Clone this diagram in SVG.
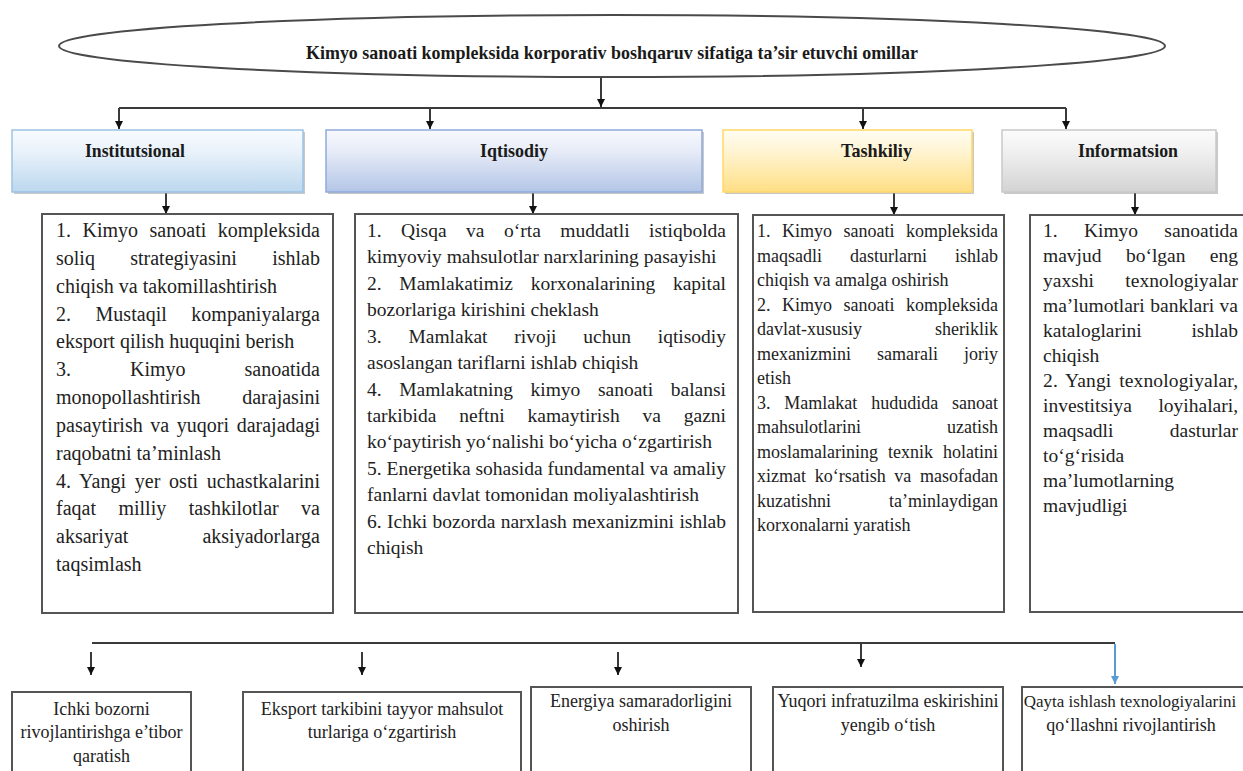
<svg xmlns="http://www.w3.org/2000/svg" width="1243" height="771" viewBox="0 0 1243 771">
<style>
.ln{stroke:#3a3a3a;stroke-width:2;fill:none}
.bl{stroke:#5b9bd5;stroke-width:2;fill:none}
.box{fill:#fff;stroke:#555;stroke-width:2}
.hd{font-family:"Liberation Serif","Times New Roman",serif;font-weight:bold;font-size:19px;fill:#1a1a1a}
.t{font-family:"Liberation Serif","Times New Roman",serif;fill:#222}
.b1{font-size:20px}
.b2{font-size:19.5px}
.b3{font-size:18px}
.b4{font-size:19.5px}
.bt{font-family:"Liberation Serif","Times New Roman",serif;font-size:18px;fill:#222;text-anchor:middle}
.sh{fill:#9a9a9a;opacity:0.55}
</style>
<defs>
<marker id="ar" markerUnits="userSpaceOnUse" markerWidth="9" markerHeight="10" refX="8" refY="4" orient="auto">
<path d="M0,0 L8,4 L0,8 z" fill="#111"/>
</marker>
<marker id="arb" markerUnits="userSpaceOnUse" markerWidth="9" markerHeight="10" refX="8" refY="4" orient="auto">
<path d="M0,0 L8,4 L0,8 z" fill="#5b9bd5"/>
</marker>
<linearGradient id="gInst" x1="0" y1="0" x2="0" y2="1"><stop offset="0" stop-color="#f7fbfe"/><stop offset="0.35" stop-color="#e9f2fa"/><stop offset="1" stop-color="#bcd7ee"/></linearGradient>
<linearGradient id="gIqt" x1="0" y1="0" x2="0" y2="1"><stop offset="0" stop-color="#f8f9fd"/><stop offset="0.35" stop-color="#e6ebf7"/><stop offset="1" stop-color="#b3c5e7"/></linearGradient>
<linearGradient id="gTash" x1="0" y1="0" x2="0" y2="1"><stop offset="0" stop-color="#fffdf3"/><stop offset="0.35" stop-color="#fff4d2"/><stop offset="1" stop-color="#ffdf85"/></linearGradient>
<linearGradient id="gInfo" x1="0" y1="0" x2="0" y2="1"><stop offset="0" stop-color="#fcfcfc"/><stop offset="0.35" stop-color="#f0f0f0"/><stop offset="1" stop-color="#d3d3d3"/></linearGradient>
</defs>

<g id="connectors">
<line class="ln" x1="601" y1="77" x2="601" y2="107" marker-end="url(#ar)"/>
<line class="ln" x1="119" y1="108" x2="1066" y2="108"/>
<line class="ln" x1="119" y1="108" x2="119" y2="129" marker-end="url(#ar)"/>
<line class="ln" x1="430" y1="108" x2="430" y2="129" marker-end="url(#ar)"/>
<line class="ln" x1="863" y1="108" x2="863" y2="129" marker-end="url(#ar)"/>
<line class="ln" x1="1066" y1="108" x2="1066" y2="129" marker-end="url(#ar)"/>
<line class="ln" x1="166" y1="193" x2="166" y2="214" marker-end="url(#ar)"/>
<line class="ln" x1="533" y1="193" x2="533" y2="214" marker-end="url(#ar)"/>
<line class="ln" x1="894" y1="193" x2="894" y2="215" marker-end="url(#ar)"/>
<line class="ln" x1="1135" y1="193" x2="1135" y2="215" marker-end="url(#ar)"/>
<line class="ln" x1="92" y1="643" x2="1115" y2="643"/>
<line class="ln" x1="91" y1="652" x2="91" y2="675" marker-end="url(#ar)"/>
<line class="ln" x1="362" y1="652" x2="362" y2="675" marker-end="url(#ar)"/>
<line class="ln" x1="618" y1="652" x2="618" y2="675" marker-end="url(#ar)"/>
<line class="ln" x1="861" y1="643" x2="861" y2="667" marker-end="url(#ar)"/>
<line class="bl" x1="1115" y1="644" x2="1115" y2="684" marker-end="url(#arb)"/>
</g>

<g id="title">
<ellipse cx="612" cy="46" rx="553" ry="31" fill="#fff" stroke="#4a4a4a" stroke-width="2"/>
<text class="hd" x="612" y="59" text-anchor="middle" textLength="612" lengthAdjust="spacingAndGlyphs">Kimyo sanoati kompleksida korporativ boshqaruv sifatiga ta’sir etuvchi omillar</text>
</g>

<g id="h-institutsional">
<rect class="sh" x="14" y="132" width="291" height="62"/>
<rect x="12" y="130" width="291" height="62" fill="url(#gInst)" stroke="#9dc3e6" stroke-width="1.5"/>
<text class="hd" x="85" y="157" textLength="100" lengthAdjust="spacingAndGlyphs">Institutsional</text>
</g>
<g id="h-iqtisodiy">
<rect class="sh" x="328" y="132" width="376" height="62"/>
<rect x="326" y="130" width="376" height="62" fill="url(#gIqt)" stroke="#8faadc" stroke-width="1.5"/>
<text class="hd" x="480" y="157" textLength="68" lengthAdjust="spacingAndGlyphs">Iqtisodiy</text>
</g>
<g id="h-tashkiliy">
<rect class="sh" x="725" y="132" width="249" height="62"/>
<rect x="723" y="130" width="249" height="62" fill="url(#gTash)" stroke="#ffd966" stroke-width="1.5"/>
<text class="hd" x="841" y="157" textLength="71" lengthAdjust="spacingAndGlyphs">Tashkiliy</text>
</g>
<g id="h-informatsion">
<rect class="sh" x="1004" y="132" width="214" height="62"/>
<rect x="1002" y="130" width="214" height="62" fill="url(#gInfo)" stroke="#c9c9c9" stroke-width="1.5"/>
<text class="hd" x="1078" y="157" textLength="100" lengthAdjust="spacingAndGlyphs">Informatsion</text>
</g>

<g id="c-institutsional">
<rect class="box" x="42" y="214" width="291" height="399"/>
<g class="t b1">
<text x="56" y="237" word-spacing="6.5" textLength="264" lengthAdjust="spacing">1. Kimyo sanoati kompleksida</text>
<text x="56" y="264.8" word-spacing="30.3" textLength="264" lengthAdjust="spacing">soliq strategiyasini ishlab</text>
<text x="56" y="292.7">chiqish va takomillashtirish</text>
<text x="56" y="320.5" word-spacing="19.5" textLength="264" lengthAdjust="spacing">2. Mustaqil kompaniyalarga</text>
<text x="56" y="348.3">eksport qilish huquqini berish</text>
<text x="56" y="376.2" word-spacing="54" textLength="264" lengthAdjust="spacing">3. Kimyo sanoatida</text>
<text x="56" y="404" word-spacing="36.8" textLength="264" lengthAdjust="spacing">monopollashtirish darajasini</text>
<text x="56" y="431.8" word-spacing="2.6" textLength="264" lengthAdjust="spacing">pasaytirish va yuqori darajadagi</text>
<text x="56" y="459.6">raqobatni ta’minlash</text>
<text x="56" y="487.5" word-spacing="3.4" textLength="264" lengthAdjust="spacing">4. Yangi yer osti uchastkalarini</text>
<text x="56" y="515.3" word-spacing="17.4" textLength="264" lengthAdjust="spacing">faqat milliy tashkilotlar va</text>
<text x="56" y="543.1" word-spacing="69" textLength="264" lengthAdjust="spacing">aksariyat aksiyadorlarga</text>
<text x="56" y="571">taqsimlash</text>
</g>
</g>

<g id="c-iqtisodiy">
<rect class="box" x="355" y="214" width="383" height="399"/>
<g class="t b2">
<text x="367" y="237" word-spacing="14.6" textLength="359" lengthAdjust="spacing">1. Qisqa va o‘rta muddatli istiqbolda</text>
<text x="367" y="263.4">kimyoviy mahsulotlar narxlarining pasayishi</text>
<text x="367" y="289.8" word-spacing="12.8" textLength="359" lengthAdjust="spacing">2. Mamlakatimiz korxonalarining kapital</text>
<text x="367" y="316.3">bozorlariga kirishini cheklash</text>
<text x="367" y="342.7" word-spacing="21.9" textLength="359" lengthAdjust="spacing">3. Mamlakat rivoji uchun iqtisodiy</text>
<text x="367" y="369.1">asoslangan tariflarni ishlab chiqish</text>
<text x="367" y="395.5" word-spacing="12.7" textLength="359" lengthAdjust="spacing">4. Mamlakatning kimyo sanoati balansi</text>
<text x="367" y="421.9" word-spacing="18" textLength="359" lengthAdjust="spacing">tarkibida neftni kamaytirish va gazni</text>
<text x="367" y="448.4">ko‘paytirish yo‘nalishi bo‘yicha o‘zgartirish</text>
<text x="367" y="474.8" word-spacing="0" textLength="359" lengthAdjust="spacing">5. Energetika sohasida fundamental va amaliy</text>
<text x="367" y="501.2">fanlarni davlat tomonidan moliyalashtirish</text>
<text x="367" y="527.6" word-spacing="0.5" textLength="359" lengthAdjust="spacing">6. Ichki bozorda narxlash mexanizmini ishlab</text>
<text x="367" y="554">chiqish</text>
</g>
</g>

<g id="c-tashkiliy">
<rect class="box" x="753" y="215" width="251" height="397"/>
<g class="t b3">
<text x="757" y="237" word-spacing="7" textLength="241" lengthAdjust="spacing">1. Kimyo sanoati kompleksida</text>
<text x="757" y="261.5" word-spacing="23.5" textLength="241" lengthAdjust="spacing">maqsadli dasturlarni ishlab</text>
<text x="757" y="286">chiqish va amalga oshirish</text>
<text x="757" y="310.5" word-spacing="7" textLength="241" lengthAdjust="spacing">2. Kimyo sanoati kompleksida</text>
<text x="757" y="335" word-spacing="68.5" textLength="241" lengthAdjust="spacing">davlat-xususiy sheriklik</text>
<text x="757" y="359.5" word-spacing="21.5" textLength="241" lengthAdjust="spacing">mexanizmini samarali joriy</text>
<text x="757" y="384">etish</text>
<text x="757" y="408.5" word-spacing="9.3" textLength="241" lengthAdjust="spacing">3. Mamlakat hududida sanoat</text>
<text x="757" y="433" word-spacing="81.5" textLength="241" lengthAdjust="spacing">mahsulotlarini uzatish</text>
<text x="757" y="457.5" word-spacing="5.5" textLength="241" lengthAdjust="spacing">moslamalarining texnik holatini</text>
<text x="757" y="482" word-spacing="4.2" textLength="241" lengthAdjust="spacing">xizmat ko‘rsatish va masofadan</text>
<text x="757" y="506.5" word-spacing="53.5" textLength="241" lengthAdjust="spacing">kuzatishni ta’minlaydigan</text>
<text x="757" y="531">korxonalarni yaratish</text>
</g>
</g>

<g id="c-informatsion">
<rect class="box" x="1030" y="215" width="222" height="397"/>
<g class="t b4">
<text x="1043" y="237" word-spacing="21.4" textLength="195" lengthAdjust="spacing">1. Kimyo sanoatida</text>
<text x="1043" y="262" word-spacing="19.5" textLength="195" lengthAdjust="spacing">mavjud bo‘lgan eng</text>
<text x="1043" y="287" word-spacing="26.5" textLength="195" lengthAdjust="spacing">yaxshi texnologiyalar</text>
<text x="1043" y="312" word-spacing="0.6" textLength="195" lengthAdjust="spacing">ma’lumotlari banklari va</text>
<text x="1043" y="337" word-spacing="45" textLength="195" lengthAdjust="spacing">kataloglarini ishlab</text>
<text x="1043" y="362">chiqish</text>
<text x="1043" y="387" word-spacing="2.7" textLength="195" lengthAdjust="spacing">2. Yangi texnologiyalar,</text>
<text x="1043" y="412" word-spacing="21.7" textLength="195" lengthAdjust="spacing">investitsiya loyihalari,</text>
<text x="1043" y="437" word-spacing="51.5" textLength="195" lengthAdjust="spacing">maqsadli dasturlar</text>
<text x="1043" y="462">to‘g‘risida</text>
<text x="1043" y="487">ma’lumotlarning</text>
<text x="1043" y="512">mavjudligi</text>
</g>
</g>

<g id="r-ichki">
<rect class="box" x="12" y="692" width="179" height="100"/>
<text class="bt" x="101.5" y="715">Ichki bozorni</text>
<text class="bt" x="101.5" y="738">rivojlantirishga e’tibor</text>
<text class="bt" x="101.5" y="762">qaratish</text>
</g>
<g id="r-eksport">
<rect class="box" x="243" y="692" width="278" height="100"/>
<text class="bt" x="382" y="715">Eksport tarkibini tayyor mahsulot</text>
<text class="bt" x="382" y="738">turlariga o‘zgartirish</text>
</g>
<g id="r-energiya">
<rect class="box" x="531" y="687" width="220" height="100"/>
<text class="bt" x="641" y="707">Energiya samaradorligini</text>
<text class="bt" x="641" y="731">oshirish</text>
</g>
<g id="r-yuqori">
<rect class="box" x="773" y="687" width="230" height="100"/>
<text class="bt" x="888" y="707">Yuqori infratuzilma eskirishini</text>
<text class="bt" x="888" y="731">yengib o‘tish</text>
</g>
<g id="r-qayta">
<rect class="box" x="1022" y="687" width="228" height="100"/>
<text class="bt" x="1130" y="707" style="font-size:17px">Qayta ishlash texnologiyalarini</text>
<text class="bt" x="1131" y="731">qo‘llashni rivojlantirish</text>
</g>
</svg>
